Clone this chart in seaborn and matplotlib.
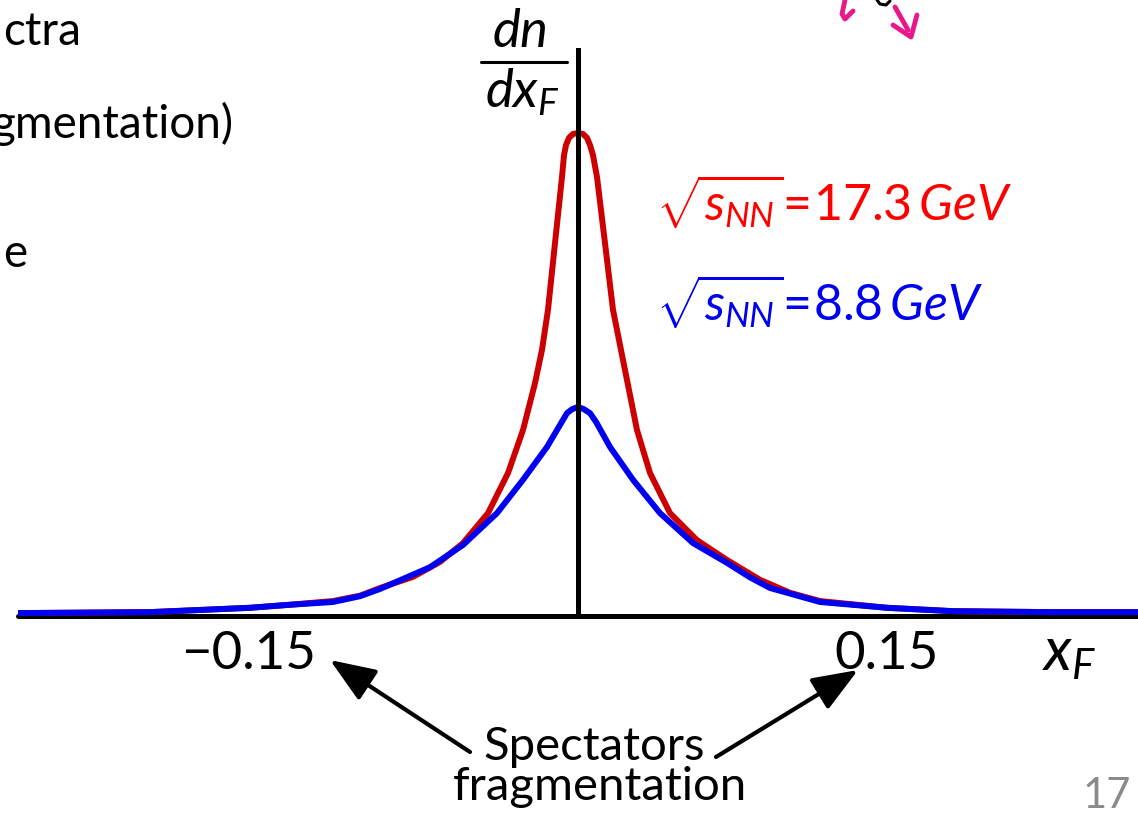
# === IMPORTS ===
import matplotlib
matplotlib.use("Agg")
import pandas as pd
import seaborn as sns
import matplotlib.pyplot as plt
from matplotlib.lines import Line2D

# === SETTINGS ===
sns.set_theme(style="white")
plt.rcParams["font.family"] = ["Lato", "DejaVu Sans"]
plt.rcParams["text.color"] = "black"
plt.rcParams["mathtext.fontset"] = "custom"
plt.rcParams["mathtext.rm"] = "Lato"
plt.rcParams["mathtext.it"] = "Lato:italic"
plt.rcParams["mathtext.bf"] = "Lato:bold"

W, H = 1138, 821

# === 1. DATA ===
xf_red = [-0.280, -0.214, -0.164, -0.145, -0.1225, -0.109, -0.099, -0.0825,
          -0.069, -0.0575, -0.045, -0.035, -0.0275, -0.0215, -0.018, -0.015,
          -0.0115, -0.008, -0.007, -0.006, -0.0045, -0.0025, 0.0, 0.0025,
          0.0045, 0.006, 0.0075, 0.0095, 0.0135, 0.0175, 0.0225, 0.0295,
          0.036, 0.046, 0.0595, 0.0745, 0.091, 0.106, 0.121, 0.1545,
          0.1875, 0.236, 0.280]
dn_red = [0.06, 0.08, 0.17, 0.23, 0.31, 0.42, 0.58, 0.81,
          1.12, 1.51, 2.13, 2.96, 3.85, 4.82, 5.51, 6.34,
          7.72, 9.09, 9.54, 9.75, 9.90, 9.98, 10.0, 9.98,
          9.90, 9.75, 9.54, 9.09, 7.72, 6.34, 5.30, 3.85,
          2.96, 2.13, 1.57, 1.16, 0.75, 0.48, 0.31, 0.17,
          0.10, 0.08, 0.08]

xf_blue = [-0.280, -0.214, -0.164, -0.145, -0.1225, -0.109, -0.099, -0.074,
           -0.0575, -0.0405, -0.0275, -0.0155, -0.0055, -0.003, 0.0, 0.003,
           0.006, 0.009, 0.016, 0.0275, 0.041, 0.0575, 0.0745, 0.086,
           0.096, 0.121, 0.1545, 0.1875, 0.236, 0.280]
dn_blue = [0.06, 0.08, 0.17, 0.23, 0.29, 0.41, 0.56, 1.01,
           1.47, 2.13, 2.82, 3.50, 4.20, 4.28, 4.33, 4.28,
           4.20, 4.02, 3.50, 2.82, 2.13, 1.51, 1.10, 0.80,
           0.58, 0.29, 0.17, 0.10, 0.08, 0.08]

tick_labels = ["\u22120.15", "0.15"]
label_red = r"$\sqrt{s_{NN}}\!=\!\mathrm{17.3}\,GeV$"
label_blue = r"$\sqrt{s_{NN}}\!=\!\mathrm{8.8}\,GeV$"
note_lines = ["Spectators", "fragmentation"]
slide_bits = ["ctra", "gmentation)", "e"]
page_no = "17"

df_red = pd.DataFrame({"xF": xf_red, "dndx": dn_red})
df_blue = pd.DataFrame({"xF": xf_blue, "dndx": dn_blue})

RED_LINE = "#CC0000"
RED_TEXT = "#FF0000"
BLUE = "#0000F0"
PINK = "#E8178A"

# === 2. FIGURE ===
fig = plt.figure(figsize=(W / 100, H / 100), dpi=100)
fig.patch.set_facecolor("white")
ax = fig.add_axes([18 / W, (H - 616) / H, (W - 18) / W, 568 / H])
ax.axis("off")

sns.lineplot(data=df_red, x="xF", y="dndx", color=RED_LINE, linewidth=4.3,
             solid_joinstyle="round", ax=ax, zorder=2)
sns.lineplot(data=df_blue, x="xF", y="dndx", color=BLUE, linewidth=4.3,
             solid_joinstyle="round", ax=ax, zorder=2.5)

ax.set_xlim(-0.28, 0.28)
ax.set_ylim(0, 11.76)
ax.axhline(0, color="black", lw=3.6, clip_on=False, zorder=1.5)
ax.axvline(0, color="black", lw=3.6, zorder=3)


def put(px, py, s, **kw):
    fig.text(px / W, 1 - py / H, s, **kw)


# axis labels
put(248, 669, tick_labels[0], ha="center", va="baseline", size=38)
put(887, 669, tick_labels[1], ha="center", va="baseline", size=38)
put(1042, 671, r"$x_F$", ha="left", va="baseline", size=43)

put(519, 47, r"$dn$", ha="center", va="baseline", size=38)
fig.add_artist(Line2D([481 / W, 567 / W], [1 - 62 / H, 1 - 62 / H],
                      color="black", lw=2.2))
put(485, 108, r"$dx_F$", ha="left", va="baseline", size=38)

# energy labels
put(656, 220, label_red, ha="left", va="baseline", size=36, color=RED_TEXT)
put(656, 320, label_blue, ha="left", va="baseline", size=36, color=BLUE)

# spectators note + arrows
put(594, 760, note_lines[0], ha="center", va="baseline", size=34)
put(600, 800, note_lines[1], ha="center", va="baseline", size=34)
for tail, tip in [((470, 752), (330, 660)), ((716, 757), (858, 670))]:
    ax.annotate("", xy=(tip[0], H - tip[1]), xytext=(tail[0], H - tail[1]),
                xycoords="figure pixels", textcoords="figure pixels",
                arrowprops=dict(arrowstyle="-|>,head_length=1.4,head_width=0.55",
                                color="black", lw=3, mutation_scale=20,
                                shrinkA=0, shrinkB=0),
                annotation_clip=False)

# bits of the slide around the chart (cut off at the left edge like the slide crop)
put(81, 45, slide_bits[0], ha="right", va="baseline", size=33)
put(234, 138, slide_bits[1], ha="right", va="baseline", size=33)
put(27, 267, slide_bits[2], ha="right", va="baseline", size=33)
put(1131, 808, page_no, ha="right", va="baseline", size=30, color="#8a8a8a")

# handwritten scribble at the top
for pts, col, lw in [
    ([(845, 0), (842, 14), (845, 19), (853, 11)], PINK, 3.5),
    ([(877, 0), (880, 4), (886, 5), (890, 1)], "black", 2.2),
    ([(895, 7), (908, 30)], PINK, 3.5),
    ([(893, 25), (911, 37), (917, 15)], PINK, 3.5),
]:
    fig.add_artist(Line2D([p[0] / W for p in pts], [1 - p[1] / H for p in pts],
                          color=col, lw=lw, solid_capstyle="round",
                          solid_joinstyle="round"))

plt.savefig("out.png", dpi=100, facecolor="white")
plt.close()
